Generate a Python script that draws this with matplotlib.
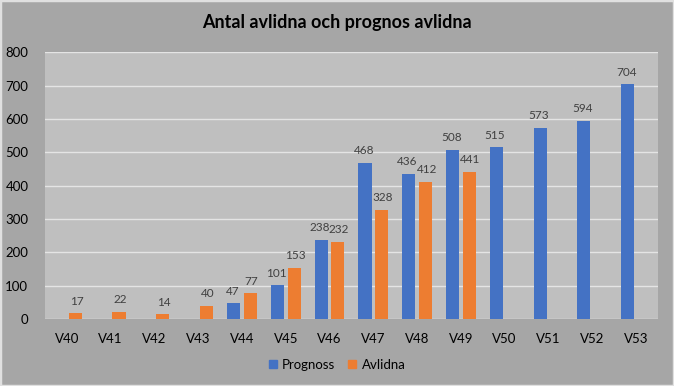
import numpy as np
import matplotlib.pyplot as plt
import matplotlib.patches as mpatches

weeks = ["V40", "V41", "V42", "V43", "V44", "V45", "V46", "V47", "V48", "V49", "V50", "V51", "V52", "V53"]
prognoss = [None, None, None, None, 47, 101, 238, 468, 436, 508, 515, 573, 594, 704]
avlidna = [17, 22, 14, 40, 77, 153, 232, 328, 412, 441, None, None, None, None]

blue = "#4472C4"
orange = "#ED7D31"
txt = "#404040"
plt.rcParams['font.family'] = ['Lato', 'DejaVu Sans']

fig = plt.figure(figsize=(6.74, 3.86), dpi=100, facecolor="#a6a6a6")
fig.patches.append(mpatches.Rectangle((0, 0), 1, 1, transform=fig.transFigure,
                                      fill=False, edgecolor="#e0e0e0", lw=2.5))
ax = fig.add_axes([0.0668, 0.1736, 0.9092, 0.6904])
ax.set_facecolor("#bfbfbf")

x = np.arange(len(weeks))
w = 0.30
off = 0.19
for i in range(len(weeks)):
    if prognoss[i] is not None:
        ax.bar(x[i] - off, prognoss[i], w, color=blue, zorder=3)
        ax.text(x[i] - off - 0.03, prognoss[i] + 20, str(prognoss[i]), ha="center", va="bottom",
                fontsize=8.5, color=txt, zorder=4)
    if avlidna[i] is not None:
        ax.bar(x[i] + off, avlidna[i], w, color=orange, zorder=3)
        ax.text(x[i] + off + 0.03, avlidna[i] + 20, str(avlidna[i]), ha="center", va="bottom",
                fontsize=8.5, color=txt, zorder=4)

ax.set_xlim(-0.5, len(weeks) - 0.5)
ax.set_ylim(0, 800)
ax.set_yticks(range(0, 801, 100))
ax.set_xticks(x)
ax.set_xticklabels(weeks)
ax.yaxis.grid(True, color="#e4e4e4", lw=1, zorder=0)
for s in ax.spines.values():
    s.set_visible(False)
ax.tick_params(length=0, labelsize=9.5, labelcolor="black")
ax.tick_params(axis="x", pad=10)
ax.tick_params(axis="y", pad=12)

fig.text(0.5, 0.943, "Antal avlidna och prognos avlidna", ha="center", va="center",
         fontsize=13, fontweight="bold", color="black")

handles = [mpatches.Patch(color=blue, label="Prognoss"),
           mpatches.Patch(color=orange, label="Avlidna")]
fig.legend(handles=handles, loc="center", bbox_to_anchor=(0.5, 0.055), ncol=2, frameon=False,
           fontsize=9.5, handlelength=0.6, handleheight=0.6, handletextpad=0.4, columnspacing=1.0)

fig.savefig("out.png", dpi=100, facecolor=fig.get_facecolor())
